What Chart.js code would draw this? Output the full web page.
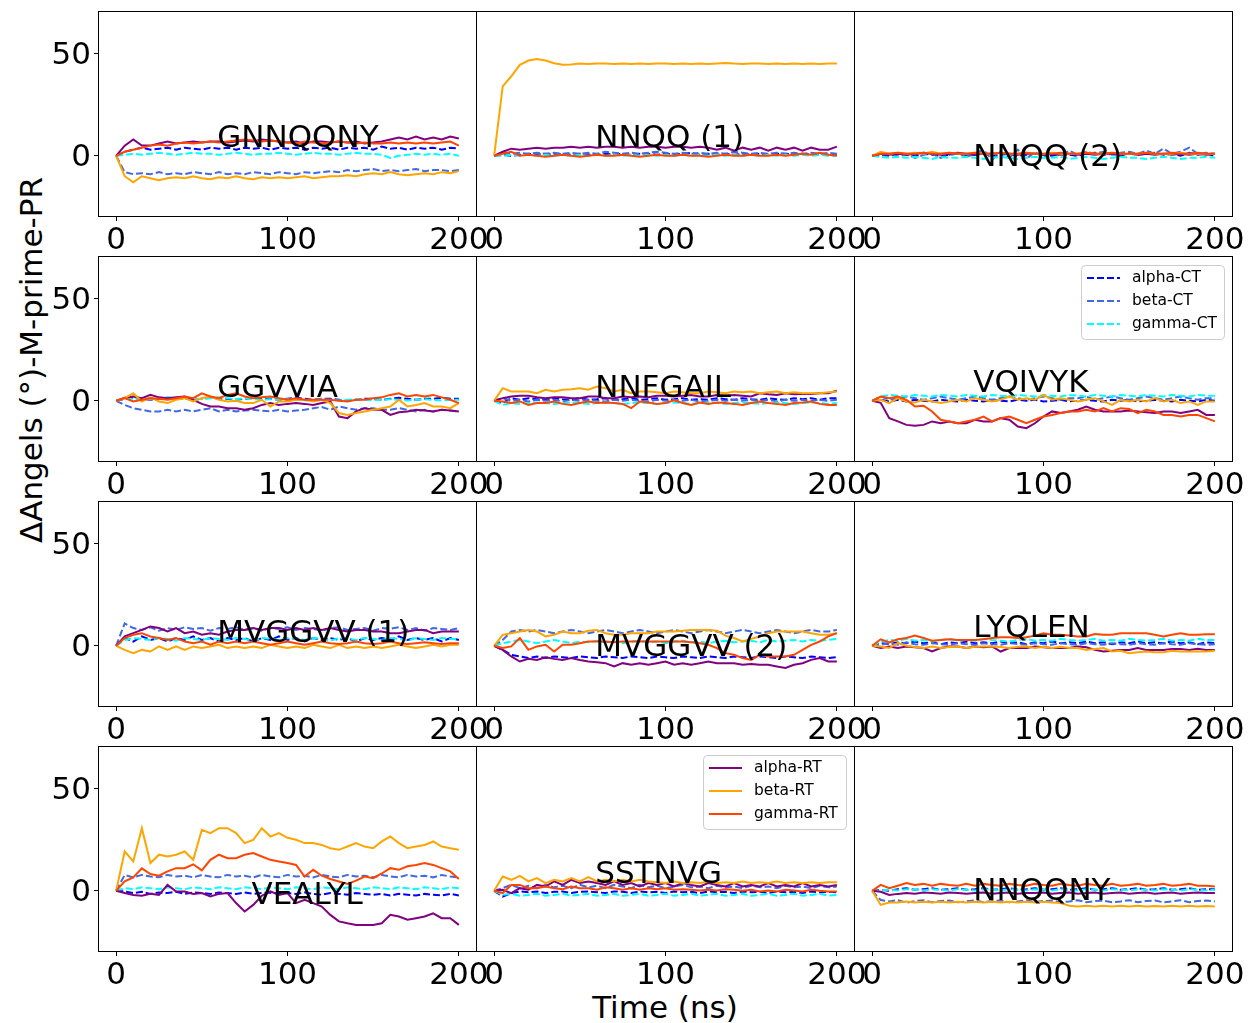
<!DOCTYPE html>
<html>
<head>
<meta charset="utf-8">
<script src="https://cdn.jsdelivr.net/npm/chart.js@4.4.0/dist/chart.umd.min.js"></script>
<style>
body { margin: 0; background: #fff; width: 1249px; height: 1023px; position: relative; overflow: hidden; font-family: "DejaVu Sans"; }
canvas { position: absolute; }
.lab { position: absolute; font-size: 31px; line-height: 1; white-space: nowrap; color: #000; transform: translate(-50%, -50%); }
#ylab { left: 31px; top: 360px; transform: translate(-50%, -50%) rotate(-90deg); }
#xlab { left: 665px; top: 1007px; }
</style>
</head>
<body>
<div class="lab" id="ylab">ΔAngels (°)-M-prime-PR</div>
<div class="lab" id="xlab">Time (ns)</div>
<script>
var times = [0,5,10,15,20,25,30,35,40,45,50,55,60,65,70,75,80,85,90,95,100,105,110,115,120,125,130,135,140,145,150,155,160,165,170,175,180,185,190,195,200];
var xTicks = [0, 100, 200];
var yTicks = [0, 50];
var seriesNames = ["alpha-CT", "beta-CT", "gamma-CT", "alpha-RT", "beta-RT", "gamma-RT"];
var seriesColors = ["#0000ff", "#4169e1", "#00ffff", "#800080", "#ffa500", "#ff4500"];

// GNNQQNY
var gnnqqny_aCT = [0,2,3,4,3,3.5,4,3,4,3.5, 3,4,3.5,4,3,4,3.5,4,3,4, 3.5,4,3,4,3.5,4,3,4,3.5,4, 3,4.5,3.5,4,3,4,3.5,4,3,4, 3.5];
var gnnqqny_bCT = [0,-8,-9,-8.5,-9,-8,-9,-8.5,-9,-8, -8.5,-9,-8,-9,-8.5,-9,-8,-8.5,-9,-8, -8.5,-9,-8,-8.5,-8,-7.5,-8,-7,-7.5,-7, -6.5,-7.5,-7,-7.5,-7,-6.5,-7.5,-7,-7,-7.5, -7];
var gnnqqny_gCT = [0,0.5,1,0.5,1,1.5,1,0.5,1,1.5, 1,1,0.5,1,1.5,1,0.5,1,1,1.5, 1,0.5,1,1.5,1,1,0.5,1,1.5,1, 1,0.5,-1,0,0.5,1,0.5,1,0.5,1, 0];
var gnnqqny_aRT = [0,5,8,5,5,6,7,6,6.5,7, 6.5,7,7,6.5,7,7.5,7,8,7.5,7, 6.5,7,6,7,7,6.5,7,6.5,7,6, 6.5,7,8,9,8,9.5,8,9,8,9.5, 8.5];
var gnnqqny_bRT = [0,-10,-13,-10,-11,-12,-11,-10.5,-11,-10, -11,-11.5,-10.5,-11,-10,-11,-11.5,-10.5,-11,-10.5, -11,-10.5,-10,-11,-10.5,-10,-10,-9.5,-10,-9, -8.5,-9,-8,-9,-9.5,-9,-8.5,-9,-8,-8.5, -7.5];
var gnnqqny_gRT = [0,2,3,4,5,5.5,5,6,6.5,6, 6.5,7,6.5,7,7.5,8,7.5,7,7.5,7, 6.5,6,7,6.5,6,6.5,7,6.5,6,6.5, 6,6,6.5,6,6.5,6,6.5,6,6.5,7, 5];

// NNQQ (1)
var nnqq1_aCT = [0,0.5,0,0.5,1,0.5,1,0.5,1,0.5, 1,0.5,0.5,1,0.5,1,0.5,1,1,0.5, 1,0.5,1,1.5,0.5,1,0.5,1,0.5,1, 0.5,1,0.5,1,1,0.5,1,0.5,1,0.5, 0.5];
var nnqq1_bCT = [0,2,1,1.5,1,1.5,1,1.5,1,1.5, 1,1.5,1,2,1.5,1,1.5,1,1.5,2, 1.5,1,1.5,1,1.5,1,1.5,1,2,1.5, 1,1.5,1,1.5,1,1.5,1,1.5,1,1.5, 1];
var nnqq1_gCT = [0,0,0.5,0,0.5,0,0.5,0,0.5,0, 0.5,0,0.5,0,0.5,0,0.5,0,0.5,0, 0.5,0,0.5,0,0.5,0,0.5,0,0.5,0, 0.5,0,0.5,0,0.5,0,0.5,0,0.5,0, 0];
var nnqq1_aRT = [0,2,3.5,3,3.5,4,3.5,4,4,4.5, 4,4.5,4,4.5,4.5,4,4.5,4,4.5,4.5, 4,4.5,4.5,4,4.5,4,3,4,2.5,4, 3,4,2.5,4,3,4,2.5,4,3,3, 4.5];
var nnqq1_bRT = [0,34,39,44.6,46.7,47.4,46.7,45.4,44.6,44.8, 45.2,45,45.3,45.2,45,45.3,45,45.2,45,45.3, 45.2,45,45.3,45,45.2,45,45.3,45.5,45.2,45, 45.3,45.2,45,45.3,45,45.2,45,45.3,45,45.3, 45.2];
var nnqq1_gRT = [0,1,2,0,0.5,0,-0.5,0,0.5,0, -0.5,0,0.5,0,0,0.5,0,-0.5,0,0.5, 0,0,0.5,0,0,-0.5,0,0.5,0,0, 0.5,0,0,0.5,0,0.5,1,0.5,1.5,0.5, 0];

// NNQQ (2)
var nnqq2_aCT = [0,0.5,0,1,0.5,0,1,0.5,0,0.5, 1,0,0.5,1,0,0.5,1,0,0.5,1, 0.5,0,1,0.5,0,1,1.5,0.5,1,0, 1.5,0.5,1,1.5,0.5,1,0,1.5,0.5,1, 0];
var nnqq2_bCT = [0,0.5,1,0,1,-1,0.5,1,-1,0.5, 1.5,-0.5,1,3,-2,2,-1,3,-1.5,2, -1,1.5,0,2.5,0.5,2,1,2,0.5,1.5, 2,1,2.5,1,3.5,1,2,4,1,1.5, 1];
var nnqq2_gCT = [0,-0.5,-1,-0.5,-1,-0.5,-1,-1.5,-0.5,-1, -1,-0.5,-1,-1.5,-1,-0.5,-1,-1.5,-1,-0.5, -1,-1,-0.5,-1.5,-1,-0.5,-1,-1.5,-1,-0.5, -1,-1,-1.5,-1,-0.5,-1,-1.5,-1,-1,-0.5, -1];
var nnqq2_aRT = [0,1,0.5,1,0.5,1,1.5,1,0.5,1, 1.5,1,0.5,1,1,1.5,1,0.5,1,1, 0.5,1,0.5,1,0.5,1,0.5,1,1,0.5, 1,0.5,1,0.5,1,0.5,1,0.5,1,0.5, 1];
var nnqq2_bRT = [0,2,1,1.5,1,1.5,1,2,1,1.5, 1,1,1.5,1,1,1.5,1,1,1.5,1, 1,1.5,1,1,1,1.5,1,1,1.5,1, 1,1,1.5,1,1,1,1.5,1,1,1, 1];
var nnqq2_gRT = [0,1,1,1.5,1,1,1.5,1,1,1.5, 1,1,1.5,1,1,1.5,1,1,1.5,1, 1,1,1.5,1,1,1.5,1,1,1.5,1, 1,1,1.5,1,1,1.5,1,1,1.5,1, 1];

// GGVVIA
var ggvvia_aCT = [0,1,1.5,1,0.5,1,1.5,1,1,0.5, 1,1.5,1,1,0.5,1,1.5,1,1,0.5, 1,1.5,1,0.5,1,1,0.5,0,0.5,1, 1,0.5,1,1.5,1,0.5,1,1,1.5,1, 1];
var ggvvia_bCT = [0,-2,-3.6,-4.4,-5.2,-5.2,-4.4,-5.2,-4.4,-5.2, -4.4,-3.6,-5.2,-4.4,-5.2,-4.8,-4.4,-4.8,-5.2,-4.4, -5.2,-4.8,-4.4,-3.6,-3,-4.4,-2.8,-3.6,-4.4,-3.6, -3.6,-4.4,-4.4,-3.6,-4.4,-5.2,-4.4,-5.2,-4.4,-4.8, -5.2];
var ggvvia_gCT = [0,1.3,0.8,1.3,0.8,1.3,1.7,1.3,0.8,1.3, 0.8,1.3,1.7,1.3,0.8,1.3,0.8,0.5,0.8,0.5, 0.8,0.5,0.2,0.5,0.8,0.5,0.2,0.5,0.8,0.5, 0.2,0.5,0.8,0.5,0.2,0.5,0.8,0.5,0.2,0.5, 0.5];
var ggvvia_aRT = [0,1.5,2.1,1.3,2.9,1.7,1.3,1.7,2.1,0.5, -1.5,-2.8,-2.8,-3.6,-3.6,-4.4,-3.6,-2,-1.1,-2, -1.5,-1.1,-1.5,-2,-1.1,-0.3,-7.7,-8.5,-5.2,-3.6, -4.4,-4.4,-6.9,-5.6,-5.2,-4.4,-4.8,-5.2,-4.4,-4.8, -5.2];
var ggvvia_bRT = [0,1.3,3.7,-0.3,1.7,-0.3,-1.1,0.5,1.3,-0.3, 1.3,2.1,0.5,-0.3,0,-1.1,-1.1,0.5,-2.8,-0.3, -0.3,0.5,0.5,-0.3,0.5,-1.1,-6,-6.9,-6,-5.2, -4.4,-3.6,-2.8,0.5,-2.8,-2,-1.1,-2.8,-2.8,-3.6, -1.1];
var ggvvia_gRT = [0,1.3,-0.3,0.5,1.3,1,0.5,1.3,2.1,1.3, 3.7,2.1,1.3,2.9,3.7,2.1,1.3,1.7,2.1,1.3, 0.5,1.3,0.5,0.5,0.5,0.5,0,-0.3,0.5,0.5, 1.3,1.7,2.9,3.7,2.1,2.9,2.1,2.9,1.7,0.5, -1.1];

// NNFGAIL
var nnfgail_aCT = [0,-1,1.3,0.5,1.3,0.8,0.5,1.3,0.8,0.5, 1.3,0.5,0.8,1.3,0.5,0.8,1.3,0.5,0.8,1.3, 0.5,0.8,1.3,0.5,0.8,0.5,1.3,0.8,0.5,1.3, 0.8,0.5,1.3,0.8,0.5,1.3,0.8,1.3,0.5,1.3, 1.3];
var nnfgail_bCT = [0,1.3,0,0.5,-0.3,0.5,0,0.5,-0.3,0.5, 0,0.5,0,-0.3,0.5,0,0.5,0,-0.3,0.5, 0,0.5,0,0.5,-0.3,0,0.5,0,0.5,0, 0.5,0,0.5,-0.3,0.5,0,0.5,0,0.5,0, 0.5];
var nnfgail_gCT = [0,-2,-1.1,-1.5,-1.1,-0.8,-1.1,-1.5,-1.1,-0.8, -1.1,-1.5,-1.1,-0.8,-1.1,-1.5,-1.1,-0.8,-1.1,-1.5, -1.1,-0.8,-1.1,-1.5,-1.1,-0.8,-1.1,-1.5,-1.1,-0.8, -1.1,-1.5,-1.1,-0.8,-1.1,-1.5,-1.1,-0.8,-1.1,-1.5, -1.1];
var nnfgail_aRT = [0,1.3,2.1,2.5,2.5,1.8,1.3,1.8,1.8,1.3, 1.3,2.1,2.1,1.3,1.3,2.1,1.8,2.1,1.8,2.5, 2.5,2.1,2.5,2.9,2.1,2.1,2.9,2.5,2.9,2.5, 2.1,3.7,3.2,2.9,3.7,3.2,3.4,3.4,3.7,3.7, 4.9];
var nnfgail_bRT = [0,6.2,4.6,4.6,4.6,3.7,5.4,4.6,5.4,5.7, 6.2,5.4,7,6.2,4.6,5.4,3.7,4.6,4.6,4.2, 3.7,4.6,4.2,3.7,3.7,4.6,4.2,3.7,4.6,4.2, 4.6,3.7,4.2,4.6,3.7,4.2,3.7,3.7,3.7,4.2, 4.6];
var nnfgail_gRT = [0,-0.3,-1.1,-0.3,-2,-1.1,-1.1,-0.3,-1.5,-2, -1.1,-0.3,-1.1,-0.8,-1.1,-1.5,-3.6,-0.3,-0.8,-1.5, -1.1,0.2,-1.1,-2,-0.8,-1.5,-0.8,-1.1,-1.5,-2, -1.1,-0.3,-1.1,-1.5,-2,-1.1,-0.8,-0.3,-1.5,-2, -2];

// VQIVYK
var vqivyk_aCT = [0,0.5,-0.3,0.5,-0.3,0.5,0,-0.3,0.5,0, -0.3,0.5,0,-0.3,0.5,0,-0.3,0.5,0,0.5, -0.3,0,0.5,-0.3,0,0.5,0,-0.3,0.5,0, 0.5,-0.3,0,0.5,0,-0.3,0.5,0,-0.3,0.5, 0];
var vqivyk_bCT = [0,2.1,0.5,1.3,2.1,1.3,0.5,1.3,2.1,1.3, 0.5,1.3,2.1,1.3,0.5,1.3,2.1,1.3,0.5,1.3, 2.1,1.3,0.5,1.3,1.3,2.1,0.5,1.3,2.1,1.3, 0.5,1.3,2.1,1.3,0.5,1.3,2.1,1.3,0.5,1.3, 1.3];
var vqivyk_gCT = [0,2.1,2.9,2.5,2.1,2.9,2.5,2.1,2.9,2.5, 2.1,2.9,2.5,2.1,2.9,2.5,2.1,2.9,2.5,2.1, 2.9,2.5,2.1,2.9,2.5,2.1,2.9,2.5,2.1,2.9, 2.5,2.1,2.9,2.5,2.1,2.9,2.5,2.1,2.9,2.5, 2.5];
var vqivyk_aRT = [0,-1,-8.5,-10.1,-11.8,-12.2,-11.8,-10.1,-11,-10.1, -11,-11,-9.3,-10.1,-10.1,-8.5,-9.3,-12.6,-13.4,-11, -7.7,-5.2,-6,-5.2,-4.4,-2.8,-4.4,-5.2,-5.2,-5.2, -4.8,-5.2,-5.6,-6,-5.2,-5.2,-6,-5.2,-4.4,-6.9, -6.9];
var vqivyk_bRT = [0,0.5,-1.1,1.3,-0.3,-0.8,0.5,-0.3,-1.1,-0.3, 0.5,-0.3,1.3,0.5,-0.3,0.5,2.1,0.5,1.3,0.5, 2.9,0.5,1.3,0.5,-0.3,0.5,1.3,-0.3,-2,0.5, -0.3,0.5,-0.3,1.3,-0.3,0.5,-1.1,-0.3,-2,-0.3, -0.3];
var vqivyk_gRT = [0,2.1,1.3,2.1,0.5,-2.8,-2.4,-5.2,-9.3,-10.1, -11,-10.1,-9.3,-7.7,-10.1,-8.5,-7.7,-9.3,-11,-9.3, -7.7,-6.9,-6,-5.2,-5.2,-4.4,-5.2,-3.6,-5.2,-3.6, -4,-6,-4.4,-5.2,-6.9,-6.9,-7.7,-6.9,-6.9,-8.5, -10.1];

// MVGGVV (1)
var mvggvv1_aCT = [0,3.8,2.1,4.6,2.9,3.8,2.1,3.8,2.9,4.6, 2.9,3.8,2.1,3.8,2.9,3.8,2.1,3.8,2.9,4.6, 2.9,3.8,2.1,3.8,2.9,3.8,2.9,3.8,2.1,3.8, 2.9,3.8,2.9,4.6,2.9,3.8,2.9,3.8,2.1,3.8, 2.9];
var mvggvv1_bCT = [0,11,8.7,7.8,9.1,7.4,8.7,7.8,9.1,8.3, 8.7,7.4,8.7,8.3,9.1,7.8,8.7,7.4,8.7,8.3, 9.1,7.8,8.7,8.3,7.4,8.7,9.1,7.8,8.3,8.7, 7.4,8.7,8.3,9.1,7.8,8.7,7.4,8.7,8.3,7.8, 8.7];
var mvggvv1_gCT = [0,2.9,3.8,3.4,2.9,3.8,3.4,2.5,3.8,3.4, 2.9,3.8,3.4,2.9,3.8,3.4,2.5,3.8,3.4,2.9, 3.8,3.4,2.9,3.8,3.4,2.5,3.8,3.4,2.9,3.8, 3.4,2.9,3.8,3.4,2.5,3.8,3.4,2.9,3.8,3.4, 3.4];
var mvggvv1_aRT = [0,4.6,6.2,7.8,9.5,8.7,7,8.7,6.2,7, 5.4,6.2,5.4,7,7.8,7.8,8.7,7.8,8.7,8.7, 7.8,8.7,7.8,8.7,7.8,8.7,7.8,7,7.8,7.8, 7,7,6.2,6.2,7,7.8,7.8,6.2,7,7, 7];
var mvggvv1_bRT = [0,-2,-3.6,-2,-2.8,-0.3,-2,-0.3,-2,-0.3, -1.1,-0.3,0.5,-1.1,-0.3,-1.1,-0.3,-1.1,0.5,-0.3, -1.1,-0.3,-1.1,0.5,-0.3,-1.1,0.5,-1.1,-0.3,-1.1, -0.3,-1.1,-0.3,0.5,-0.3,-1.1,-0.3,0.5,-0.3,0.5, 0.5];
var mvggvv1_gRT = [0,3.8,5.4,6.2,4.6,3.8,2.9,3.8,2.1,1.3, 2.1,0.5,2.1,1.3,2.1,1.3,2.1,1.3,0.5,1.3, 2.1,1.3,0.5,1.3,2.1,1.3,0.9,1.3,2.1,1.3, 0.9,1.3,2.1,1.3,0.9,1.3,1.7,1.3,0.9,1.3, 1.3];

// MVGGVV (2)
var mvggvv2_aCT = [0,-2,-4.4,-5.2,-6,-5.2,-6,-5.2,-5.6,-6, -5.2,-5.6,-6,-5.2,-5.6,-6,-5.2,-5.6,-6,-5.2, -5.6,-6,-5.2,-5.6,-6,-5.2,-5.6,-6,-5.2,-5.6, -6,-5.2,-5.6,-6,-5.2,-5.6,-6,-5.2,-5.6,-6, -5.6];
var mvggvv2_bCT = [0,2.9,7,7.8,7,7.8,7,6.2,7,7.8, 7,6.2,7,7.8,7,6.2,7,7.8,7,6.2, 7,7.8,7,6.2,7,7.8,7,6.2,7,7.8, 7,6.2,7,7.8,7,6.2,7,7.8,7,7, 7.8];
var mvggvv2_gCT = [0,1.3,2.1,2.9,2.1,1.3,2.1,2.9,2.1,1.3, 2.1,1.7,2.5,1.7,2.1,1.3,2.1,2.5,1.7,2.1, 1.3,2.1,2.5,1.7,2.1,1.3,2.1,2.5,1.7,2.1, 2.5,1.7,2.9,2.1,2.5,2.9,2.1,2.9,2.5,2.9, 3.4];
var mvggvv2_aRT = [0,-2,-5.2,-7.7,-6.4,-6.9,-5.6,-6.4,-6.9,-6, -6.9,-7.7,-8.1,-8.5,-10.1,-8.5,-9.3,-8.5,-9.3,-8.5, -7.7,-9.3,-8.5,-9.3,-8.5,-7.7,-8.5,-8.5,-8.5,-9.3, -8.9,-9.3,-9.3,-10.1,-10.9,-9.3,-8.5,-6.9,-6,-7.7, -7.7];
var mvggvv2_bRT = [0,5.4,6.2,7,7.8,7,4.6,5.4,7,6.2, 6.2,7.4,7.8,6.2,5.4,5.4,6.2,6.2,6.2,7, 7,7,7.4,7.8,7.8,7.8,7.4,5,3.8,2.1, 3.4,4.6,6.2,7,7,7,7,6.2,5.4,5.4, 6.2];
var mvggvv2_gRT = [0,-1.1,-0.3,3.8,-2,-0.3,0.5,-2.8,0.5,0.5, 1.3,2.1,2.1,2.1,1.7,2.1,2.1,2.1,2.1,2.1, 2.1,2.1,2.1,1.7,1.3,0.5,-1.1,-3.6,-4.4,-6, -6.9,-4.4,-5.2,-5.2,-5.2,-4.4,-2,0.5,2.1,4.6, 6.2];

// LYQLEN
var lyqlen_aCT = [0,1.3,0.8,1.7,1.3,2.1,1.3,1.7,0.8,1.7, 1.3,2.1,1.3,1.7,1.3,2.1,1.3,1.7,0.8,1.7, 1.3,2.1,1.3,1.7,1.3,2.1,1.3,1.7,0.8,1.7, 1.3,2.1,1.3,1.7,1.3,2.1,1.3,1.7,0.8,1.7, 1.3];
var lyqlen_bCT = [0,0.5,1.3,0.5,1.7,0.8,0.5,1.3,0.8,0.5, 1.3,0.8,0.5,1.3,0.8,0.5,1.3,0.8,0.5,1.3, 0.8,0.5,1.3,0.8,0.5,1.3,0.8,0.5,1.3,0.8, 0.5,1.3,0.8,0.5,1.3,0.8,0.5,1.3,0.8,0.5, 0.8];
var lyqlen_gCT = [0,2.1,2.9,2.5,3.4,2.5,2.9,2.1,2.9,3.4, 2.5,2.9,2.5,3.4,2.9,2.5,2.1,2.9,3.4,2.5, 2.9,2.5,3.4,2.9,2.5,2.9,3.4,2.5,2.9,2.5, 3.4,2.9,2.5,2.9,3.4,2.5,2.9,2.5,3.4,2.9, 2.9];
var lyqlen_aRT = [0,-1.1,-0.3,-1.1,-0.3,-0.7,-1.1,-2.8,-1.1,-0.3, -0.3,-1.1,-0.3,-0.7,-0.3,-2.8,-1.1,-1.1,-1.1,-0.3, -0.7,-1.1,-1.1,-1.1,-0.3,-0.7,-2,-2.8,-2.4,-2, -2,-1.1,-2,-2,-2,-1.5,-1.5,-2,-1.5,-2, -2];
var lyqlen_bRT = [0,-0.3,-1.1,1.3,0,-0.6,-1.1,-0.3,-1.1,-0.6, -0.3,-1.1,-0.5,-0.3,-0.3,-0.6,-1.1,-0.5,-0.3,-1.1, -0.5,-1.1,-0.5,-1.1,-1.1,-2,-1.5,-1.1,-2.8,-2.4, -3.6,-3.2,-2.8,-3.2,-3.2,-2.4,-2.8,-2.8,-2.8,-2.8, -2.4];
var lyqlen_gRT = [0,3.2,1.7,3.2,3.8,5,3.8,2.5,2.9,3.2, 2.9,2.9,2.9,3.2,3.8,4.2,4.2,3.8,4.2,5, 6.2,5.4,5.4,5,4.6,4.6,5.8,5.4,5.4,6.2, 6.2,6.2,6.2,5.4,4.6,5.4,6.2,5.4,5.4,5.7, 5.7];

// VEALYL
var vealyl_aCT = [0,-0.3,-1.1,-0.5,-1.5,-0.8,-1.1,-0.5,-1.5,-0.8, -1.1,-1.5,-0.8,-1.1,-1.5,-0.8,-1.5,-1.1,-0.8,-1.5, -1.1,-1.5,-0.8,-1.5,-1.9,-1.1,-1.5,-1.9,-1.1,-1.5, -1.9,-1.5,-2.3,-1.5,-1.9,-2.3,-1.5,-1.9,-2.3,-1.5, -2.3];
var vealyl_bCT = [0,7.8,6.6,7.8,7,6.6,7.8,7,7.4,6.6, 7.8,7,6.6,7.8,7,7.4,6.6,7.8,7,6.6, 7.8,7,7.4,6.6,7.8,7,6.6,7.8,7,7.4, 6.6,7.8,7,6.6,7.8,7,7.4,6.6,7.8,7, 6.6];
var vealyl_gCT = [0,1.3,0.8,1.7,1.3,0.8,1.7,1.3,0.8,1.7, 1.3,0.8,1.7,1.3,0.8,1.7,1.3,0.8,1.7,1.3, 0.8,1.7,1.3,0.8,1.7,1.3,0.8,1.7,1.3,0.8, 1.7,1.3,0.8,1.7,1.3,0.8,1.7,1.3,0.8,1.7, 1.3];
var vealyl_aRT = [0,-1.1,-2,-2.4,-1.5,-2,2.9,-0.3,-0.3,-1.5, -1.1,-2.8,-1.5,-1.1,-6,-10.1,-6.9,-2.4,-0.3,-2, -1.1,-6,-4.4,-6,-7.7,-11.8,-15,-15.9,-16.7,-16.7, -16.7,-15.9,-11.8,-12.6,-14.2,-13.4,-12.6,-11,-13.4,-13.4, -16.7];
var vealyl_bRT = [0,19.3,14.4,30.7,13.6,17.7,16.8,17.7,19.3,15.2, 29.9,28.3,30.7,30.7,28.3,23.4,25,30.7,26.6,28.3, 26,25,23.4,23.4,22.5,20.9,20.1,21.7,23.4,21.7, 20.9,24.2,26.6,23.4,20.9,21.7,22.5,24.2,21.7,20.9, 20.1];
var vealyl_gRT = [0,4.6,6.6,11,8.2,7.4,9.5,11.1,11.1,13, 10,15.2,17.7,16,16,17.7,18.5,16.8,15.2,14.4, 13.6,12.7,7,10.3,7.4,5.8,4.6,3.4,5,7, 6.2,8.5,11.1,10.3,12,12.7,13.6,12.7,11.1,9.5, 5.8];

// SSTNVG
var sstnvg_aCT = [0,-2.8,-1.1,-0.3,-0.7,-0.3,-1.1,-0.5,-0.3,-1.1, -0.5,-0.3,-0.7,-1.1,-0.3,-0.5,-1.1,-0.3,-0.7,-0.5, -1.1,-0.3,-0.7,-0.5,-1.1,-0.3,-0.7,-0.5,-1.1,-0.3, -0.7,-0.5,-1.1,-0.3,-0.7,-0.5,-1.1,-0.3,-0.7,-0.5, -0.7];
var sstnvg_bCT = [0,1.3,2.9,1.3,2.5,1.3,2.9,1.7,2.5,1.3, 2.9,1.7,2.5,1.3,2.9,2.1,1.3,2.9,1.7,2.5, 1.3,2.1,2.9,1.7,2.1,1.3,2.5,1.7,2.1,1.3, 2.5,1.7,2.1,1.3,2.5,1.7,2.1,1.3,2.5,1.7, 2.1];
var sstnvg_gCT = [0,-2,-1.5,-2.4,-2,-1.5,-2.4,-2,-1.5,-2.4, -2,-1.5,-2.4,-2,-1.5,-2.4,-2,-1.5,-2.4,-2, -1.5,-2.4,-2,-1.5,-2.4,-2,-1.5,-2.4,-2,-1.5, -2.4,-2,-1.5,-2.4,-2,-1.5,-2.4,-2,-1.5,-2.4, -2];
var sstnvg_aRT = [0,0.5,-1.1,1.3,0.5,2.9,2.1,4.6,2.9,5.4, 3.8,4.6,3.8,2.9,4.6,2.9,3.8,2.1,3.8,2.9, 3.8,2.1,3.8,2.9,2.1,3.8,2.9,2.1,3.8,2.1, 2.9,2.1,3.8,2.1,2.9,2.1,3.8,2.1,2.9,2.1, 2.9];
var sstnvg_bRT = [0,7,5.4,7.3,4.6,6.2,3.8,5.4,4.6,6.2, 4.6,6.7,4.6,5.4,4.6,5.4,4.6,5.4,4.6,4.2, 3.8,4.6,3.8,4.2,3.8,4.6,3.8,4.2,3.8,4.6, 3.8,4.2,3.8,4.6,3.8,4.2,3.8,4.2,3.8,4.2, 4.2];
var sstnvg_gRT = [0,-1.1,2.9,2.9,1.3,1.3,2.1,1.3,0.8,2.1, 1.3,1.3,0.5,1.7,1.3,0.5,1.3,0.5,1.3,0.8, 1.3,0.5,0.8,0.5,0.2,0.5,0.2,0.8,0.5,0, 0.5,-0.3,0.2,-0.3,0.5,0.2,-0.3,0.5,0,-0.3, -0.3];

// NNQQNY
var nnqqny_aCT = [0,0.5,0,0.8,1.3,0.5,0.8,1.3,0.5,0.8, 1.3,0.5,0.8,1.3,0.5,0.8,1.3,0.5,0.8,1.3, 0.5,0.8,1.3,0.5,0.8,1.3,0.5,0.8,1.3,0.5, 0.8,1.3,0.5,0.8,1.3,0.5,0.8,1.3,0.5,0.8, 0.8];
var nnqqny_bCT = [0,-4.5,-5.2,-4.6,-5.8,-5,-4.6,-5.6,-5,-4.8, -5.6,-5.2,-4.6,-5.6,-5,-4.8,-5.6,-5.2,-4.6,-5.6, -5,-4.8,-5.6,-5.2,-4.6,-5.6,-5,-4.8,-5.6,-5.2, -4.6,-5.6,-5,-4.8,-5.6,-5.2,-4.6,-5.6,-5,-4.8, -5.2];
var nnqqny_gCT = [0,0.2,0.5,0.2,0.8,0.5,0.2,0.8,0.5,0.2, 0.8,0.5,0.2,0.8,0.5,0.2,0.8,0.5,0.2,0.8, 0.5,0.2,0.8,0.5,0.2,0.8,0.5,0.2,0.8,0.5, 0.2,0.8,0.5,0.2,0.8,0.5,0.2,0.8,0.5,0.2, 0.5];
var nnqqny_aRT = [0,-0.5,-2,-1.5,-1.1,-1.4,-0.8,-1.1,-1.4,-0.8, -1.1,-1.4,-1.1,-0.8,-1.4,-1.1,-0.8,-1.4,-1.1,-1.1, -0.8,-1.4,-1.1,-0.8,-1.4,-1.1,-0.8,-1.4,-1.1,-0.8, -1.4,-1.1,-0.8,-1.4,-1.1,-0.8,-1.4,-1.1,-0.8,-1.1, -1.1];
var nnqqny_bRT = [0,-6.9,-5.7,-5.7,-5.2,-5.7,-5.4,-5.7,-5.4,-5.7, -5.4,-5.7,-5.4,-5.7,-5.4,-5.7,-5.4,-5.7,-5.4,-5.7, -5.4,-5.7,-6,-7.3,-7.7,-7.3,-7.7,-7.3,-7.7,-7.3, -7.7,-7.3,-7.7,-7.5,-7.7,-7.3,-7.7,-7.3,-7.7,-7.5, -7.7];
var nnqqny_gRT = [0,2.9,1.3,2.5,3.8,2.9,3.4,2.5,3.4,2.9, 2.5,3.4,2.5,3.4,2.9,2.5,3.4,2.9,2.5,3.4, 2.9,2.5,3.4,2.9,2.5,3.4,2.9,2.5,3.4,2.5, 2.9,3.4,2.5,2.9,3.4,2.5,2.9,3.4,2.5,2.5, 2.1];

var panelNames = ["GNNQQNY", "NNQQ (1)", "NNQQ (2)", "GGVVIA", "NNFGAIL", "VQIVYK", "MVGGVV (1)", "MVGGVV (2)", "LYQLEN", "VEALYL", "SSTNVG", "NNQQNY"];
var panelSeries = [
	[gnnqqny_aCT, gnnqqny_bCT, gnnqqny_gCT, gnnqqny_aRT, gnnqqny_bRT, gnnqqny_gRT],
	[nnqq1_aCT, nnqq1_bCT, nnqq1_gCT, nnqq1_aRT, nnqq1_bRT, nnqq1_gRT],
	[nnqq2_aCT, nnqq2_bCT, nnqq2_gCT, nnqq2_aRT, nnqq2_bRT, nnqq2_gRT],
	[ggvvia_aCT, ggvvia_bCT, ggvvia_gCT, ggvvia_aRT, ggvvia_bRT, ggvvia_gRT],
	[nnfgail_aCT, nnfgail_bCT, nnfgail_gCT, nnfgail_aRT, nnfgail_bRT, nnfgail_gRT],
	[vqivyk_aCT, vqivyk_bCT, vqivyk_gCT, vqivyk_aRT, vqivyk_bRT, vqivyk_gRT],
	[mvggvv1_aCT, mvggvv1_bCT, mvggvv1_gCT, mvggvv1_aRT, mvggvv1_bRT, mvggvv1_gRT],
	[mvggvv2_aCT, mvggvv2_bCT, mvggvv2_gCT, mvggvv2_aRT, mvggvv2_bRT, mvggvv2_gRT],
	[lyqlen_aCT, lyqlen_bCT, lyqlen_gCT, lyqlen_aRT, lyqlen_bRT, lyqlen_gRT],
	[vealyl_aCT, vealyl_bCT, vealyl_gCT, vealyl_aRT, vealyl_bRT, vealyl_gRT],
	[sstnvg_aCT, sstnvg_bCT, sstnvg_gCT, sstnvg_aRT, sstnvg_bRT, sstnvg_gRT],
	[nnqqny_aCT, nnqqny_bCT, nnqqny_gCT, nnqqny_aRT, nnqqny_bRT, nnqqny_gRT]
];
// where the panel name sits, in data units
var labelPos = [[59, 4.4], [59, 4.4], [59, -4.9], [59, 2], [59, 2], [59, 4.4], [59, 2], [59, -4.9], [59, 4.4], [79, -6.4], [59, 3.9], [59, -4.4]];

var FONT = "DejaVu Sans";
var colLeft = [99, 477, 855];
var rowTop = [12, 257, 502, 747];
var PW = 377, PH = 204;
var PAD_L = 90, PAD_T = 10, PAD_R = 45, PAD_B = 50;

var framePlugin = {
	id: "frame",
	afterDraw: function(chart) {
		var a = chart.chartArea, ctx = chart.ctx;
		ctx.save();
		ctx.strokeStyle = "#000";
		ctx.lineWidth = 1;
		ctx.strokeRect(Math.round(a.left) - 0.5, Math.round(a.top) - 0.5, Math.round(a.right - a.left) + 1, Math.round(a.bottom - a.top) + 1);
		ctx.restore();
	}
};

var namePlugin = {
	id: "panelName",
	afterDatasetsDraw: function(chart, args, opts) {
		if (!opts.text) return;
		var ctx = chart.ctx;
		ctx.save();
		ctx.font = "31px '" + FONT + "'";
		ctx.fillStyle = "#000";
		ctx.textAlign = "left";
		ctx.textBaseline = "alphabetic";
		ctx.fillText(opts.text, chart.scales.x.getPixelForValue(opts.pos[0]), chart.scales.y.getPixelForValue(opts.pos[1]));
		ctx.restore();
	}
};

var legendPlugin = {
	id: "boxLegend",
	afterDraw: function(chart, args, opts) {
		if (!opts.items) return;
		var ctx = chart.ctx, a = chart.chartArea;
		var w = 143, h = 74;
		var x = Math.round(a.right) - 8 - w, y = Math.round(a.top) + 8;
		ctx.save();
		ctx.beginPath();
		ctx.roundRect(x + 0.5, y + 0.5, w, h, 4);
		ctx.fillStyle = "rgba(255,255,255,0.8)";
		ctx.fill();
		ctx.strokeStyle = "#cccccc";
		ctx.lineWidth = 1;
		ctx.stroke();
		ctx.font = "15.5px '" + FONT + "'";
		ctx.textBaseline = "middle";
		ctx.fillStyle = "#000";
		for (var i = 0; i < opts.items.length; i++) {
			var ds = chart.data.datasets[opts.items[i]];
			var ly = y + 13 + i * 23;
			ctx.beginPath();
			ctx.setLineDash(ds.borderDash || []);
			ctx.strokeStyle = ds.borderColor;
			ctx.lineWidth = 2;
			ctx.moveTo(x + 6, ly);
			ctx.lineTo(x + 39, ly);
			ctx.stroke();
			ctx.setLineDash([]);
			ctx.fillText(ds.label, x + 51, ly);
		}
		ctx.restore();
	}
};

function drawPanel(p) {
	var row = Math.floor(p / 3), col = p % 3;
	var cvs = document.createElement("canvas");
	cvs.setAttribute("width", PW + PAD_L + PAD_R);
	cvs.setAttribute("height", PH + PAD_T + PAD_B);
	cvs.style.left = (colLeft[col] - PAD_L) + "px";
	cvs.style.top = (rowTop[row] - PAD_T) + "px";
	document.body.appendChild(cvs);

	var datasets = panelSeries[p].map(function(vals, k) {
		return {
			label: seriesNames[k],
			data: vals.map(function(v, i) { return { x: times[i], y: v }; }),
			borderColor: seriesColors[k],
			borderDash: k < 3 ? [7, 3] : [],
			borderWidth: 2,
			pointRadius: 0,
			fill: false,
			tension: 0,
			order: 5 - k
		};
	});

	var legendItems = null;
	if (p == 5) legendItems = [0, 1, 2];
	if (p == 10) legendItems = [3, 4, 5];

	var tickFont = { family: FONT, size: 31 };

	new Chart(cvs, {
		type: "line",
		data: { datasets: datasets },
		plugins: [framePlugin, namePlugin, legendPlugin],
		options: {
			responsive: false,
			maintainAspectRatio: false,
			animation: false,
			devicePixelRatio: 1,
			layout: { padding: { left: col == 0 ? 0 : PAD_L, top: PAD_T, right: PAD_R, bottom: 0 } },
			plugins: {
				legend: { display: false },
				tooltip: { enabled: false },
				panelName: { text: panelNames[p], pos: labelPos[p] },
				boxLegend: { items: legendItems }
			},
			scales: {
				x: {
					type: "linear",
					min: -10,
					max: 210,
					afterBuildTicks: function(s) { s.ticks = xTicks.map(function(v) { return { value: v }; }); },
					afterFit: function(s) { s.height = PAD_B; s.paddingLeft = 0; s.paddingRight = 0; },
					ticks: { font: tickFont, color: "#000", padding: 1, maxRotation: 0, autoSkip: false },
					grid: { drawOnChartArea: false, drawTicks: true, tickLength: 5, color: "#000" },
					border: { display: false }
				},
				y: {
					type: "linear",
					display: col == 0,
					min: -29.5,
					max: 70.5,
					afterBuildTicks: function(s) { s.ticks = yTicks.map(function(v) { return { value: v }; }); },
					afterFit: function(s) { s.width = col == 0 ? PAD_L : 0; s.paddingTop = 0; s.paddingBottom = 0; },
					ticks: { font: tickFont, color: "#000", padding: 3, labelOffset: 2 },
					grid: { drawOnChartArea: false, drawTicks: true, tickLength: 5, color: "#000" },
					border: { display: false }
				}
			}
		}
	});
}

for (var p = 0; p < 12; p++) {
	drawPanel(p);
}
</script>
</body>
</html>
